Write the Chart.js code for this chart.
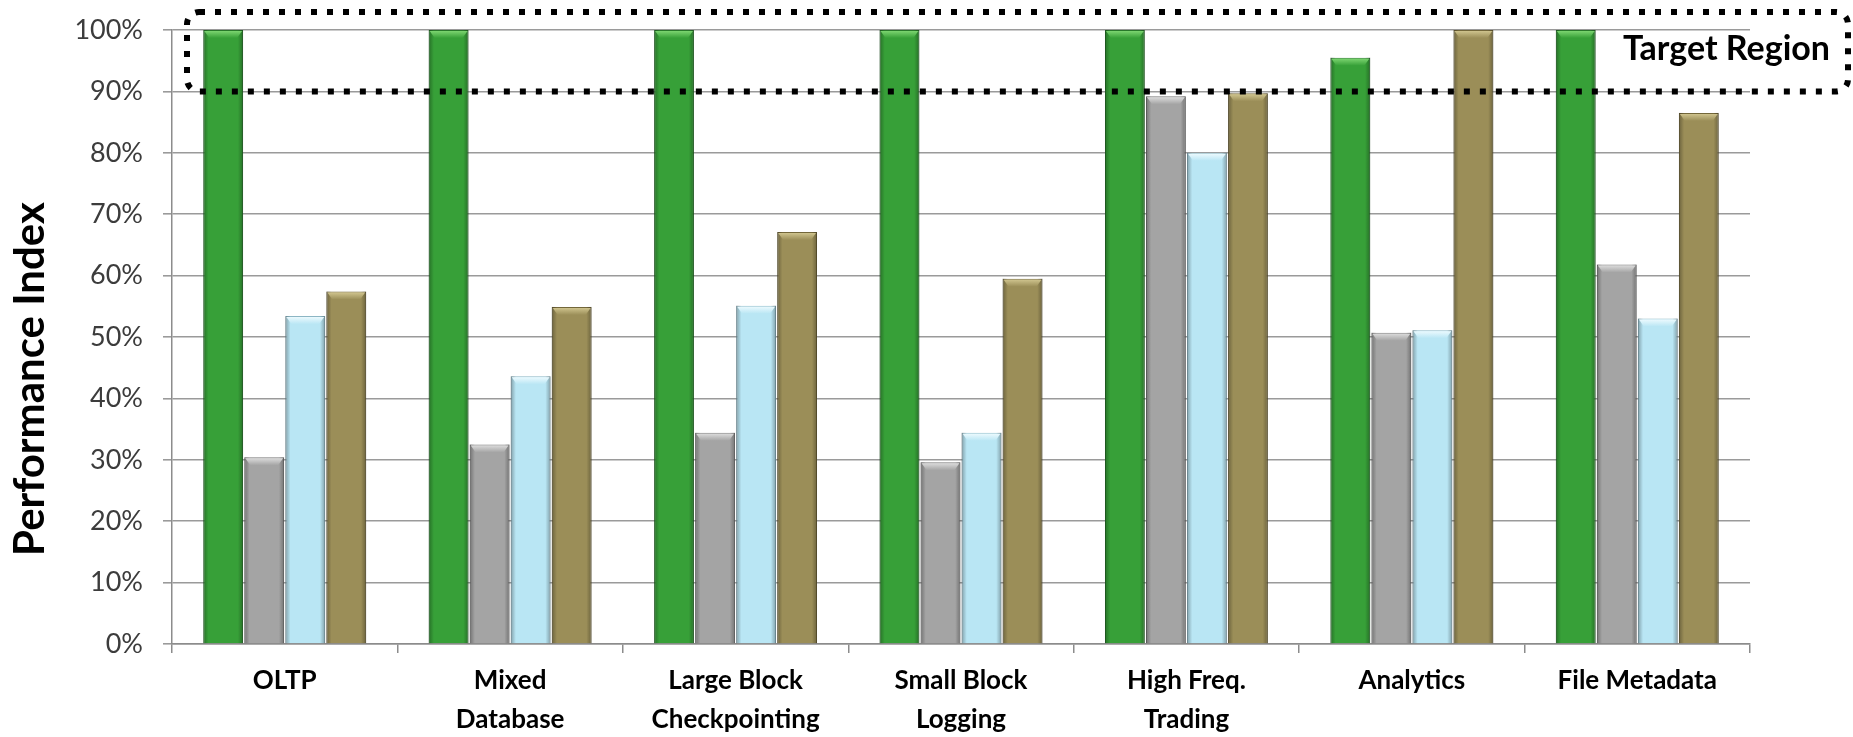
<!DOCTYPE html>
<html>
<head>
<meta charset="utf-8">
<script src="https://cdn.jsdelivr.net/npm/chart.js@4.4.1/dist/chart.umd.min.js"></script>
<style>
  html, body { margin: 0; padding: 0; background: #ffffff; }
  #wrap { width: 1853px; height: 737px; position: relative; }
</style>
</head>
<body>
<div id="wrap"><canvas id="chart" width="1853" height="737"></canvas></div>
<script>
// Workload categories (multi-line labels)
const categories = [
  ['OLTP'],
  ['Mixed', 'Database'],
  ['Large Block', 'Checkpointing'],
  ['Small Block', 'Logging'],
  ['High Freq.', 'Trading'],
  ['Analytics'],
  ['File Metadata']
];

// Performance index per workload, in percent
const seriesGreen = [100, 100, 100, 100, 100, 95.5, 100];
const seriesGray  = [30.4, 32.5, 34.4, 29.6, 89.2, 50.7, 61.8];
const seriesBlue  = [53.4, 43.6, 55.1, 34.4, 80.0, 51.1, 53.0];
const seriesGold  = [57.4, 54.9, 67.1, 59.5, 89.7, 100, 86.5];

// Axis ticks and the highlighted band
const yTickMin = 0, yTickMax = 100, yTickStep = 10;
const regionLow = 90, regionHigh = 100;
const regionLabel = 'Target Region';
const yTitle = 'Performance Index';

const FONT = 'Lato, "Open Sans", "DejaVu Sans", sans-serif';

// Soft side shading and a bevelled top cap on each bar
const bevelPlugin = {
  id: 'bevel',
  afterDatasetsDraw(chart) {
    const ctx = chart.ctx;
    chart.data.datasets.forEach((ds, i) => {
      const meta = chart.getDatasetMeta(i);
      meta.data.forEach(bar => {
        const p = bar.getProps(['x', 'y', 'base', 'width'], true);
        const l = p.x - p.width / 2, r = p.x + p.width / 2, h = p.base - p.y;
        ctx.save();
        const g = ctx.createLinearGradient(l, 0, r, 0);
        g.addColorStop(0, 'rgba(0,0,0,0.30)');
        g.addColorStop(0.13, 'rgba(0,0,0,0)');
        g.addColorStop(0.87, 'rgba(0,0,0,0)');
        g.addColorStop(1, 'rgba(0,0,0,0.30)');
        ctx.fillStyle = g;
        ctx.fillRect(l, p.y, p.width, h);
        const cg = ctx.createLinearGradient(0, p.y, 0, p.y + 8);
        cg.addColorStop(0, ds.capColor);
        cg.addColorStop(1, ds.backgroundColor);
        ctx.beginPath();
        ctx.moveTo(l + 1, p.y + 1);
        ctx.lineTo(r - 1, p.y + 1);
        ctx.lineTo(r - 6, p.y + 8);
        ctx.lineTo(l + 6, p.y + 8);
        ctx.closePath();
        ctx.fillStyle = cg;
        ctx.fill();
        ctx.restore();
      });
    });
  }
};

// Axis title plus the dotted outline around the target band
const overlayPlugin = {
  id: 'overlay',
  afterDraw(chart) {
    const ctx = chart.ctx;
    const y = chart.scales.y;
    const area = chart.chartArea;
    ctx.save();
    // rotated y-axis title
    ctx.translate(30, (area.top + area.bottom) / 2 + 42);
    ctx.rotate(-Math.PI / 2);
    ctx.font = 'bold 42px ' + FONT;
    ctx.fillStyle = '#000000';
    ctx.textAlign = 'center';
    ctx.textBaseline = 'middle';
    ctx.fillText(yTitle, 0, 0);
    ctx.restore();

    // dotted rounded box
    const top = y.getPixelForValue(regionHigh) - 18;
    const bottom = y.getPixelForValue(regionLow);
    const left = area.left + 15;
    const right = chart.width - 5;
    const rad = 12;
    ctx.save();
    ctx.strokeStyle = '#000000';
    ctx.lineWidth = 6;
    ctx.setLineDash([6, 10]);
    ctx.beginPath();
    ctx.moveTo(left + rad, top);
    ctx.lineTo(right - rad, top);
    ctx.arcTo(right, top, right, top + rad, rad);
    ctx.lineTo(right, bottom - rad);
    ctx.arcTo(right, bottom, right - rad, bottom, rad);
    ctx.lineTo(left + rad, bottom);
    ctx.arcTo(left, bottom, left, bottom - rad, rad);
    ctx.lineTo(left, top + rad);
    ctx.arcTo(left, top, left + rad, top, rad);
    ctx.closePath();
    ctx.stroke();
    ctx.restore();

    ctx.save();
    ctx.font = 'bold 34px ' + FONT;
    ctx.fillStyle = '#000000';
    ctx.textAlign = 'right';
    ctx.textBaseline = 'alphabetic';
    ctx.fillText(regionLabel, right - 18, top + 48);
    ctx.restore();
  }
};

const makeSet = (label, data, color, border, cap) => ({
  label, data,
  backgroundColor: color,
  borderColor: border,
  borderWidth: 1,
  borderSkipped: 'bottom',
  capColor: cap,
  categoryPercentage: 0.728,
  barPercentage: 0.97
});

new Chart(document.getElementById('chart'), {
  type: 'bar',
  data: {
    labels: categories,
    datasets: [
      makeSet('Series 1', seriesGreen, '#37a038', '#28782a', '#86dc78'),
      makeSet('Series 2', seriesGray,  '#a4a4a4', '#7a7a7a', '#e2e2e2'),
      makeSet('Series 3', seriesBlue,  '#b9e6f4', '#8cb6c4', '#f2fcff'),
      makeSet('Series 4', seriesGold,  '#9b8e58', '#73673a', '#d6cb95')
    ]
  },
  plugins: [bevelPlugin, overlayPlugin],
  options: {
    responsive: false,
    animation: false,
    devicePixelRatio: 1,
    layout: { padding: { top: 30, right: 103, left: 0, bottom: 0 } },
    plugins: {
      legend: { display: false },
      tooltip: { enabled: false }
    },
    scales: {
      x: {
        grid: {
          offset: true,
          drawOnChartArea: false,
          drawTicks: true,
          tickLength: 9,
          color: '#8c8c8c',
          lineWidth: 1.5
        },
        border: { display: true, color: '#8c8c8c', width: 1.5 },
        ticks: {
          color: '#000000',
          font: { family: FONT, size: 26, weight: 'bold', lineHeight: 1.5 },
          padding: 8,
          maxRotation: 0,
          autoSkip: false
        },
        afterFit(scale) { scale.height = 93; }
      },
      y: {
        min: yTickMin,
        max: yTickMax,
        ticks: {
          stepSize: yTickStep,
          color: '#3c3c3c',
          font: { family: FONT, size: 27 },
          padding: 20,
          callback: v => v + '%'
        },
        grid: {
          color: '#9a9a9a',
          lineWidth: 1.6,
          tickLength: 9
        },
        border: { display: true, color: '#8c8c8c', width: 1.5 },
        afterFit(scale) {
          scale.width = 172;
          scale.paddingTop = 0;
          scale.paddingBottom = 0;
        }
      }
    }
  }
});
</script>
</body>
</html>
